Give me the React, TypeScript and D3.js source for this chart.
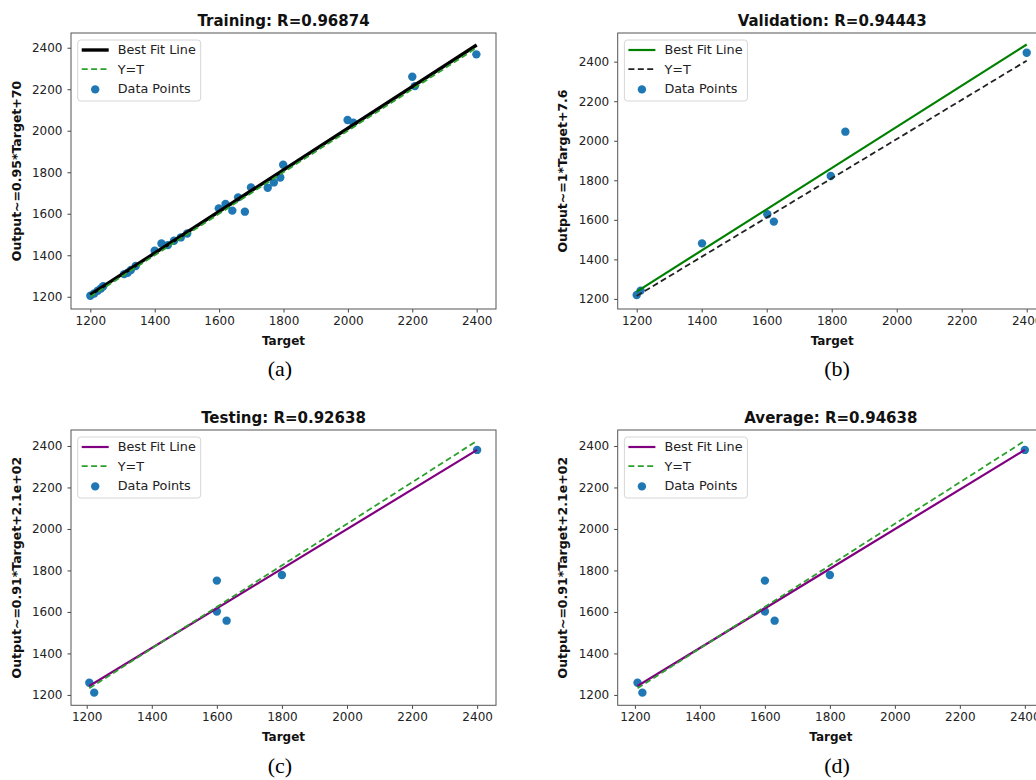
import React, { useEffect, useRef } from 'react';
import * as d3 from 'd3';

// Training points (Target, Output)
const trainTarget = [1200, 1212, 1223, 1233, 1240, 1305, 1316, 1326, 1341, 1400, 1421, 1441, 1460, 1481, 1501, 1599, 1620, 1641, 1659, 1680, 1699, 1751, 1770, 1790, 1799, 1999, 2017, 2200, 2208, 2399];
const trainOutput = [1205, 1216, 1229, 1240, 1251, 1309, 1316, 1329, 1348, 1422, 1457, 1449, 1470, 1486, 1505, 1626, 1647, 1615, 1679, 1610, 1727, 1725, 1751, 1775, 1836, 2052, 2039, 2260, 2215, 2368];

// Validation points
const valTarget = [1200, 1212, 1401, 1602, 1622, 1797, 1842, 2400];
const valOutput = [1220, 1242, 1481, 1628, 1591, 1822, 2046, 2445];

// Testing / average points (same values in both panels)
const testTarget = [1208, 1223, 1600, 1600, 1630, 1800, 2400];
const testOutput = [1259, 1211, 1751, 1602, 1558, 1778, 2381];

// Line end points [start, end]
const trainFitT = [1200, 2400];
const trainFitO = [1210, 2413];
const trainIdT = [1200, 2400];
const trainIdO = [1200, 2400];
const valFitT = [1200, 2400];
const valFitO = [1237, 2487];
const valIdT = [1200, 2400];
const valIdO = [1215, 2405];
const testFitT = [1208, 2400];
const testFitO = [1243, 2381];
const testIdT = [1208, 2400];
const testIdO = [1232, 2425];

const ticks = [1200, 1400, 1600, 1800, 2000, 2200, 2400];

const titles = ['Training: R=0.96874', 'Validation: R=0.94443', 'Testing: R=0.92638', 'Average: R=0.94638'];
const yLabels = ['Output~=0.95*Target+70', 'Output~=1*Target+7.6', 'Output~=0.91*Target+2.1e+02', 'Output~=0.91*Target+2.1e+02'];
const captions = ['(a)', '(b)', '(c)', '(d)'];

const FONT = 'DejaVu Sans, sans-serif';
const DASH = '6,3.4';

const App = () => {
    const svgRef = useRef(null);

    useEffect(() => {
        const svg = d3.select(svgRef.current);
        svg.selectAll('*').remove();

        svg.append('rect').attr('width', 1036).attr('height', 780).attr('fill', '#fff');

        const panels = [
            {
                box: { x: 71, y: 33, w: 425, h: 276 }, xDom: [1140, 2460], yDom: [1141, 2471],
                tx: trainTarget, ty: trainOutput,
                fit: { t: trainFitT, o: trainFitO, color: '#000', width: 3.4 },
                id: { t: trainIdT, o: trainIdO, color: '#2ca02c' },
                yLabelX: 17, caption: { x: 280, y: 376 },
            },
            {
                box: { x: 617.7, y: 33, w: 429, h: 276 }, xDom: [1141.5, 2461.5], yDom: [1149, 2545],
                tx: valTarget, ty: valOutput,
                fit: { t: valFitT, o: valFitO, color: '#008000', width: 2.2 },
                id: { t: valIdT, o: valIdO, color: '#222' },
                yLabelX: 563, caption: { x: 837, y: 376 },
            },
            {
                box: { x: 71, y: 430, w: 425, h: 275.3 }, xDom: [1151.7, 2458], yDom: [1150, 2477],
                tx: testTarget, ty: testOutput,
                fit: { t: testFitT, o: testFitO, color: '#800080', width: 2.2 },
                id: { t: testIdT, o: testIdO, color: '#2ca02c' },
                yLabelX: 17, caption: { x: 280, y: 773 },
            },
            {
                box: { x: 617.7, y: 430, w: 426.3, h: 275.3 }, xDom: [1147, 2459], yDom: [1150, 2477],
                tx: testTarget, ty: testOutput,
                fit: { t: testFitT, o: testFitO, color: '#800080', width: 2.2 },
                id: { t: testIdT, o: testIdO, color: '#2ca02c' },
                yLabelX: 563, caption: { x: 837, y: 773 },
            },
        ];

        panels.forEach((p, i) => {
            const { box } = p;
            const x = d3.scaleLinear().domain(p.xDom).range([box.x, box.x + box.w]);
            const y = d3.scaleLinear().domain(p.yDom).range([box.y + box.h, box.y]);
            const g = svg.append('g');

            const clipId = `clip${i}`;
            g.append('clipPath').attr('id', clipId)
                .append('rect').attr('x', box.x).attr('y', box.y).attr('width', box.w).attr('height', box.h);

            const plot = g.append('g').attr('clip-path', `url(#${clipId})`);

            // scatter first (under the lines)
            plot.selectAll('circle')
                .data(p.tx.map((t, k) => [t, p.ty[k]]))
                .enter()
                .append('circle')
                .attr('cx', (d) => x(d[0]))
                .attr('cy', (d) => y(d[1]))
                .attr('r', 4.2)
                .attr('fill', '#1f77b4');

            const line = d3.line().x((d) => x(d[0])).y((d) => y(d[1]));

            plot.append('path')
                .attr('d', line(p.fit.t.map((t, k) => [t, p.fit.o[k]])))
                .attr('stroke', p.fit.color)
                .attr('stroke-width', p.fit.width)
                .attr('fill', 'none');

            plot.append('path')
                .attr('d', line(p.id.t.map((t, k) => [t, p.id.o[k]])))
                .attr('stroke', p.id.color)
                .attr('stroke-width', 1.8)
                .attr('stroke-dasharray', DASH)
                .attr('fill', 'none');

            // axes
            const xAxis = g.append('g')
                .attr('transform', `translate(0,${box.y + box.h})`)
                .call(d3.axisBottom(x).tickValues(ticks).tickSize(3.5).tickPadding(4).tickFormat(d3.format('d')));
            const yAxis = g.append('g')
                .attr('transform', `translate(${box.x},0)`)
                .call(d3.axisLeft(y).tickValues(ticks).tickSize(3.5).tickPadding(5).tickFormat(d3.format('d')));
            [xAxis, yAxis].forEach((a) => {
                a.select('.domain').remove();
                a.selectAll('line').attr('stroke', '#444');
                a.selectAll('text').attr('font-family', FONT).attr('font-size', 12).attr('fill', '#222');
            });

            // frame
            g.append('rect')
                .attr('x', box.x).attr('y', box.y).attr('width', box.w).attr('height', box.h)
                .attr('fill', 'none').attr('stroke', '#555').attr('stroke-width', 1);

            const cx = box.x + box.w / 2;
            g.append('text')
                .attr('x', cx).attr('y', box.y - 7)
                .attr('text-anchor', 'middle')
                .attr('font-family', FONT).attr('font-weight', 'bold').attr('font-size', 15)
                .attr('fill', '#111')
                .text(titles[i]);

            g.append('text')
                .attr('x', cx).attr('y', box.y + box.h + 36)
                .attr('text-anchor', 'middle')
                .attr('font-family', FONT).attr('font-weight', 'bold').attr('font-size', 12)
                .attr('fill', '#111')
                .text('Target');

            g.append('text')
                .attr('transform', `translate(${p.yLabelX},${box.y + box.h / 2}) rotate(-90)`)
                .attr('text-anchor', 'middle')
                .attr('dy', '0.35em')
                .attr('font-family', FONT).attr('font-weight', 'bold').attr('font-size', 12.5)
                .attr('fill', '#111')
                .text(yLabels[i]);

            g.append('text')
                .attr('x', p.caption.x).attr('y', p.caption.y)
                .attr('text-anchor', 'middle')
                .attr('font-family', 'Liberation Serif, serif').attr('font-size', 22)
                .attr('fill', '#000')
                .text(captions[i]);

            // legend
            const lx = box.x + 6.7;
            const ly = box.y + 7;
            const leg = g.append('g');
            leg.append('rect')
                .attr('x', lx).attr('y', ly).attr('width', 123).attr('height', 61)
                .attr('rx', 3)
                .attr('fill', '#fff').attr('fill-opacity', 0.85)
                .attr('stroke', '#d6d6d6');
            const rows = [
                { label: 'Best Fit Line', kind: 'fit' },
                { label: 'Y=T', kind: 'id' },
                { label: 'Data Points', kind: 'dot' },
            ];
            rows.forEach((r, k) => {
                const ry = ly + 10 + k * 19.2;
                if (r.kind === 'fit') {
                    leg.append('line').attr('x1', lx + 4).attr('x2', lx + 31).attr('y1', ry).attr('y2', ry)
                        .attr('stroke', p.fit.color).attr('stroke-width', p.fit.width);
                } else if (r.kind === 'id') {
                    leg.append('line').attr('x1', lx + 4).attr('x2', lx + 31).attr('y1', ry).attr('y2', ry)
                        .attr('stroke', p.id.color).attr('stroke-width', 1.8).attr('stroke-dasharray', DASH);
                } else {
                    leg.append('circle').attr('cx', lx + 17.5).attr('cy', ry + 1).attr('r', 4.2).attr('fill', '#1f77b4');
                }
                leg.append('text')
                    .attr('x', lx + 40).attr('y', ry).attr('dy', '0.35em')
                    .attr('font-family', FONT).attr('font-size', 12.8).attr('fill', '#222')
                    .text(r.label);
            });
        });
    }, []);

    return (
        <div style={{ position: 'absolute', left: 0, top: 0 }}>
            <svg ref={svgRef} width={1036} height={780} style={{ display: 'block' }}></svg>
        </div>
    );
};

export default App;
